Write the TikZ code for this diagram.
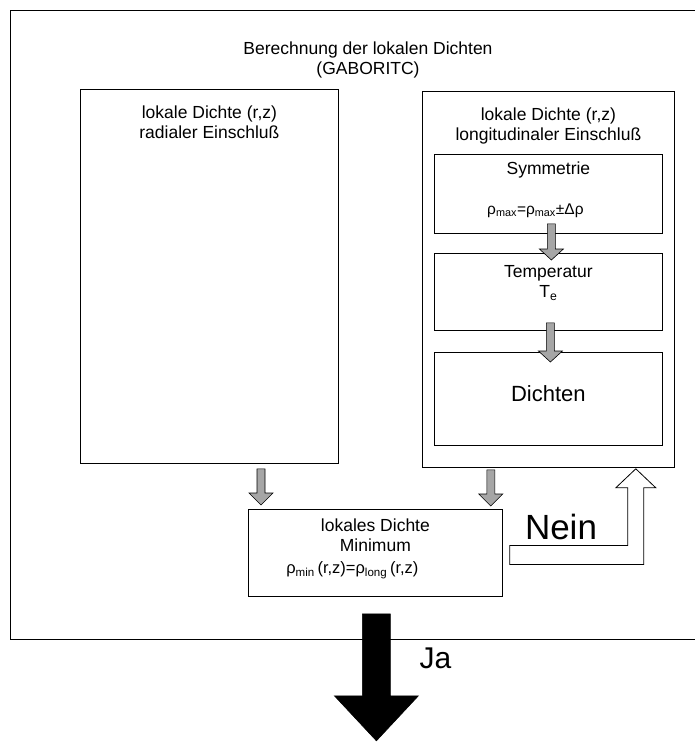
\documentclass[tikz,border=0pt]{standalone}
\usepackage{fontspec}
\setmainfont{Liberation Sans}
\usepackage{tikz}
\usetikzlibrary{positioning,calc}

\tikzset{
  box/.style={draw, line width=0.8pt, inner sep=0pt, anchor=north west},
  txt/.style={align=center, inner sep=0pt, font=\fontsize{17.5}{20}\selectfont},
  hatcharrow/.style={draw, line width=0.6pt, fill=black!35},
  hollowarrow/.style={draw, line width=0.8pt, fill=white},
  solidarrow/.style={draw, line width=0.6pt, fill=black}
}

% block arrow pointing down: style, from, to, half shaft, half head, head length
\newcommand{\downblock}[6]{
  \draw[#1] let \p1=(#2), \p2=(#3) in
    (\x1-#4,\y1) -- (\x1-#4,\y2+#6) -- (\x1-#5,\y2+#6) -- (\x1,\y2)
    -- (\x1+#5,\y2+#6) -- (\x1+#4,\y2+#6) -- (\x1+#4,\y1) -- cycle;
}

\begin{document}
\begin{tikzpicture}[x=1pt,y=-1pt]
  \useasboundingbox (0,0) rectangle (695,742);

  \draw[line width=0.8pt] (695,10) -- (10,10) -- (10,639) -- (695,639);
  \node[txt] (title) at (368,60) {Berechnung der lokalen Dichten\\(GABORITC)};

  \node[box, minimum width=258pt, minimum height=374pt] (radial) at (80,89) {};
  \node[box, minimum width=252pt, minimum height=376pt] (longit) at (422,91) {};
  \node[box, minimum width=228pt, minimum height=79pt] (symm) at (434,154) {};
  \node[box, minimum width=228pt, minimum height=77pt] (temp) at (434,253) {};
  \node[box, minimum width=228pt, minimum height=93pt] (dicht) at (434,352) {};
  \node[box, minimum width=254pt, minimum height=87pt] (minbox) at (248,509) {};

  \node[txt] (radialtxt) at ($(radial.north)+(0,33)$) {lokale Dichte (r,z)\\radialer Einschluß};
  \node[txt] (longittxt) at ($(longit.north)+(0,35)$) {lokale Dichte (r,z)\\longitudinaler Einschluß};
  \node[txt] (symmtxt) at ($(symm.north)+(0,16)$) {Symmetrie};
  \node[txt, font=\fontsize{15.5}{18}\selectfont] (symmform) at ($(symm.north)+(-13,57)$)
    {ρ\textsubscript{max}=ρ\textsubscript{max}±Δρ};
  \node[txt] (temptxt) at ($(temp.north)+(0,30)$) {Temperatur\\T\textsubscript{e}};
  \node[txt, font=\fontsize{22}{26}\selectfont] (dichttxt) at ($(dicht.center)+(0,-5)$) {Dichten};
  \node[txt] (mintxt) at ($(minbox.north)+(0,26)$) {lokales Dichte\\Minimum};
  \node[txt, font=\fontsize{16.5}{19}\selectfont] (minform) at ($(minbox.north)+(-23,61)$)
    {ρ\textsubscript{min}\,(r,z)=ρ\textsubscript{long}\,(r,z)};

  \coordinate (a1s) at ($(radial.south -| minbox.north west)+(13,5)$);
  \coordinate (a1e) at ($(minbox.north west)+(13,-4)$);
  \coordinate (a2s) at ($(longit.south -| minbox.north east)+(-12,2)$);
  \coordinate (a2e) at ($(minbox.north east)+(-12,-3)$);
  \coordinate (a3s) at ($(symm.south)+(3,-10)$);
  \coordinate (a3e) at ($(temp.north)+(3,7)$);
  \coordinate (a4s) at ($(temp.south)+(2,-8)$);
  \coordinate (a4e) at ($(dicht.north)+(2,10)$);
  \downblock{hatcharrow}{a1s}{a1e}{4pt}{12pt}{12pt}
  \downblock{hatcharrow}{a2s}{a2e}{4pt}{12pt}{12pt}
  \downblock{hatcharrow}{a3s}{a3e}{4pt}{12pt}{11pt}
  \downblock{hatcharrow}{a4s}{a4e}{4pt}{12pt}{11pt}

  % Ja
  \coordinate (jas) at ($(minbox.south)+(1,17)$);
  \coordinate (jae) at ($(minbox.south)+(1,144)$);
  \downblock{solidarrow}{jas}{jae}{14pt}{42pt}{45pt}
  \node[font=\fontsize{30}{34}\selectfont, anchor=base west, inner sep=0pt] (ja) at ($(jas)+(43,55)$) {Ja};

  % Nein
  \coordinate (neins) at ($(minbox.east)+(7,2)$);
  \coordinate (neine) at ($(longit.south -| minbox.east)+(133,1)$);
  \draw[hollowarrow] let \p1=(neins), \p2=(neine) in
    (\x1,\y1+9.5pt) -- (\x2-8pt,\y1+9.5pt) -- (\x2-8pt,\y2-19pt) -- (\x2-20pt,\y2-19pt)
    -- (\x2,\y2) -- (\x2+20pt,\y2-19pt) -- (\x2+8pt,\y2-19pt) -- (\x2+8pt,\y1-9.5pt)
    -- (\x1,\y1-9.5pt) -- cycle;
  \node[font=\fontsize{35}{40}\selectfont, anchor=base west, inner sep=0pt] (nein) at ($(neins)+(15,-15.5)$) {Nein};
\end{tikzpicture}
\end{document}
